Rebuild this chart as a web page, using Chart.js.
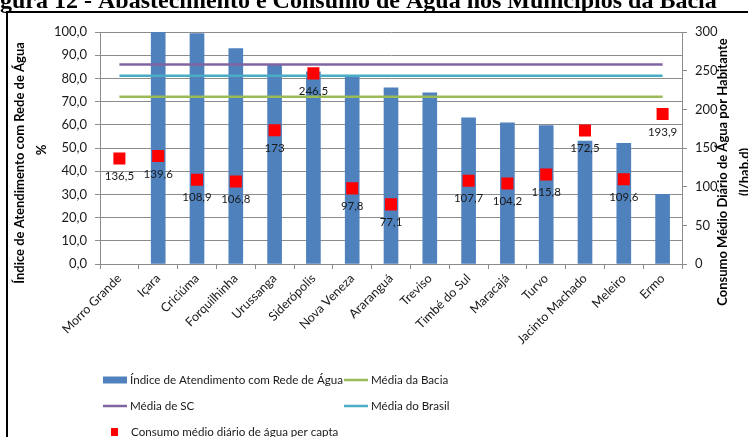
<!DOCTYPE html>
<html>
<head>
<meta charset="utf-8">
<script src="https://cdn.jsdelivr.net/npm/chart.js@4/dist/chart.umd.min.js"></script>
<style>
  html, body { margin: 0; padding: 0; background: #fff; }
  #wrap { position: relative; width: 748px; height: 437px; overflow: hidden; }
  #frame {
    position: absolute; left: 6px; top: 11px; width: 760px; height: 460px;
    border: 2px solid #000; box-sizing: border-box;
  }
  #chart { position: absolute; left: 0; top: 0; }
</style>
</head>
<body>
<div id="wrap">
  <div id="frame"></div>
  <canvas id="chart" width="748" height="437"></canvas>
</div>
<script>
// Municípios da bacia
const municipios = ['Morro Grande', 'Içara', 'Criciúma', 'Forquilhinha', 'Urussanga', 'Siderópolis',
  'Nova Veneza', 'Araranguá', 'Treviso', 'Timbé do Sul', 'Maracajá', 'Turvo', 'Jacinto Machado',
  'Meleiro', 'Ermo'];

// Índice de atendimento com rede de água (%)
const indiceAtendimento = [null, 100.0, 99.3, 92.8, 85.6, 82.8, 80.6, 75.9, 73.8, 63.0, 60.8, 59.7, 53.0, 52.0, 30.0];

// Consumo médio diário de água per capita (l/hab.d)
const consumoPerCapita = [136.5, 139.6, 108.9, 106.8, 173, 246.5, 97.8, 77.1, null, 107.7, 104.2, 115.8, 172.5, 109.6, 193.9];

// Médias de referência (%)
const mediaBacia = 72.1;
const mediaSC = 86.0;
const mediaBrasil = 81.1;

// Eixos
const ticksIndice = { min: 0, max: 100, step: 10 };
const ticksConsumo = { min: 0, max: 300, step: 50 };

const legenda = 'Figura 12 - Abastecimento e Consumo de Água nos Municípios da Bacia';

const FONT = 'Lato, "Open Sans", sans-serif';
const TEXT = '#1a1a1a';
const AXIS = '#8c8c8c';

const cores = {
  indice: '#4F81BD',
  bacia: '#9BBB59',
  sc: '#8064A2',
  brasil: '#4BACC6',
  consumo: '#FF0000'
};

const fmt = v => String(v).replace('.', ',');

// Linha horizontal de média, do primeiro ao último município
const linhaMedia = v => [
  { x: municipios[0], y: v },
  { x: municipios[municipios.length - 1], y: v }
];

// Legenda da figura, acima da moldura
const tituloFigura = {
  id: 'tituloFigura',
  afterDraw(chart) {
    const ctx = chart.ctx;
    ctx.save();
    ctx.font = 'bold 24px "Liberation Serif", "Times New Roman", serif';
    ctx.fillStyle = '#000';
    ctx.textAlign = 'left';
    ctx.textBaseline = 'alphabetic';
    const recuo = ctx.measureText('Fi').width;
    ctx.fillText(legenda, -recuo, 8);
    ctx.restore();
  }
};

// Rótulos de valor abaixo dos marcadores de consumo
const rotulosConsumo = {
  id: 'rotulosConsumo',
  afterDatasetsDraw(chart) {
    const ctx = chart.ctx;
    const meta = chart.getDatasetMeta(4);
    ctx.save();
    ctx.font = '11.5px ' + FONT;
    ctx.fillStyle = TEXT;
    ctx.textAlign = 'center';
    ctx.textBaseline = 'middle';
    meta.data.forEach((pt, i) => {
      const v = consumoPerCapita[i];
      if (v === null || v === undefined) return;
      ctx.fillText(fmt(v), pt.x, pt.y + 18);
    });
    ctx.restore();
  }
};

// Títulos dos eixos verticais (ambos lidos de baixo para cima)
const titulosEixos = {
  id: 'titulosEixos',
  afterDraw(chart) {
    const ctx = chart.ctx;
    const draw = (txt, x, y) => {
      ctx.save();
      ctx.translate(x, y);
      ctx.rotate(-Math.PI / 2);
      ctx.fillText(txt, 0, 0);
      ctx.restore();
    };
    ctx.save();
    ctx.font = 'bold 13px ' + FONT;
    ctx.fillStyle = '#000';
    ctx.textAlign = 'center';
    ctx.textBaseline = 'middle';
    draw('Índice de Atendimento com Rede de Água', 20, 163);
    draw('%', 42, 150);
    draw('Consumo Médio Diário de Água por Habitante', 723, 172);
    draw('(l/hab.d)', 745, 172);
    ctx.restore();
  }
};

// Legenda em grade (duas colunas)
const legendaGrade = {
  id: 'legendaGrade',
  afterDraw(chart) {
    const ctx = chart.ctx;
    const ds = chart.data.datasets;
    const itens = [
      { i: 0, x: 103, y: 380, tipo: 'caixa' },
      { i: 1, x: 344, y: 380, tipo: 'linha' },
      { i: 2, x: 103, y: 406, tipo: 'linha' },
      { i: 3, x: 344, y: 406, tipo: 'linha' },
      { i: 4, x: 111, y: 432, tipo: 'ponto' }
    ];
    ctx.save();
    ctx.font = '11.6px ' + FONT;
    ctx.textBaseline = 'middle';
    ctx.textAlign = 'left';
    itens.forEach(it => {
      const d = ds[it.i];
      let tx;
      if (it.tipo === 'caixa') {
        ctx.fillStyle = d.backgroundColor;
        ctx.fillRect(it.x, it.y - 3.5, 24, 7);
        tx = it.x + 27;
      } else if (it.tipo === 'linha') {
        ctx.strokeStyle = d.borderColor;
        ctx.lineWidth = 2.5;
        ctx.beginPath();
        ctx.moveTo(it.x, it.y);
        ctx.lineTo(it.x + 24, it.y);
        ctx.stroke();
        tx = it.x + 27;
      } else {
        ctx.fillStyle = d.backgroundColor;
        ctx.fillRect(it.x, it.y - 4, 7, 8);
        tx = it.x + 20;
      }
      ctx.fillStyle = TEXT;
      ctx.fillText(d.label, tx, it.y);
    });
    ctx.restore();
  }
};

new Chart(document.getElementById('chart'), {
  data: {
    labels: municipios,
    datasets: [
      {
        type: 'bar',
        label: 'Índice de Atendimento com Rede de Água',
        data: indiceAtendimento,
        yAxisID: 'y',
        backgroundColor: cores.indice,
        barThickness: 14,
        order: 5
      },
      {
        type: 'line',
        label: 'Média da Bacia',
        data: linhaMedia(mediaBacia),
        yAxisID: 'y',
        borderColor: cores.bacia,
        backgroundColor: cores.bacia,
        borderWidth: 2.5,
        pointRadius: 0,
        order: 4
      },
      {
        type: 'line',
        label: 'Média de SC',
        data: linhaMedia(mediaSC),
        yAxisID: 'y',
        borderColor: cores.sc,
        backgroundColor: cores.sc,
        borderWidth: 2.5,
        pointRadius: 0,
        order: 3
      },
      {
        type: 'line',
        label: 'Média do Brasil',
        data: linhaMedia(mediaBrasil),
        yAxisID: 'y',
        borderColor: cores.brasil,
        backgroundColor: cores.brasil,
        borderWidth: 2.5,
        pointRadius: 0,
        order: 2
      },
      {
        type: 'line',
        label: 'Consumo médio diário de água per capta',
        data: consumoPerCapita,
        yAxisID: 'y1',
        showLine: false,
        pointStyle: 'rect',
        pointRadius: 8.5,
        pointBorderWidth: 0,
        backgroundColor: cores.consumo,
        borderColor: cores.consumo,
        order: 1
      }
    ]
  },
  options: {
    responsive: false,
    animation: false,
    devicePixelRatio: 1,
    layout: { padding: { top: 32, left: 0, right: 0, bottom: 0 } },
    plugins: {
      legend: { display: false },
      tooltip: { enabled: false },
      title: { display: false }
    },
    scales: {
      x: {
        type: 'category',
        offset: true,
        grid: { drawOnChartArea: false, drawTicks: true, tickLength: 5, offset: true, color: AXIS },
        border: { color: AXIS },
        ticks: {
          minRotation: 45, maxRotation: 45, autoSkip: false, padding: 2,
          color: TEXT, font: { family: FONT, size: 12.5 }
        },
        afterFit(s) { s.height = 173; }
      },
      y: {
        position: 'left',
        min: ticksIndice.min, max: ticksIndice.max,
        grid: { color: AXIS, tickLength: 5 },
        border: { color: AXIS },
        ticks: {
          stepSize: ticksIndice.step, padding: 8, color: TEXT,
          font: { family: FONT, size: 13 },
          callback: v => v.toFixed(1).replace('.', ',')
        },
        afterFit(s) { s.width = 100; }
      },
      y1: {
        position: 'right',
        min: ticksConsumo.min, max: ticksConsumo.max,
        grid: { drawOnChartArea: false, color: AXIS, tickLength: 5 },
        border: { color: AXIS },
        ticks: {
          stepSize: ticksConsumo.step, padding: 8, color: TEXT,
          font: { family: FONT, size: 13 },
          callback: v => String(v)
        },
        afterFit(s) { s.width = 66; }
      }
    }
  },
  plugins: [tituloFigura, rotulosConsumo, titulosEixos, legendaGrade]
});
</script>
</body>
</html>
